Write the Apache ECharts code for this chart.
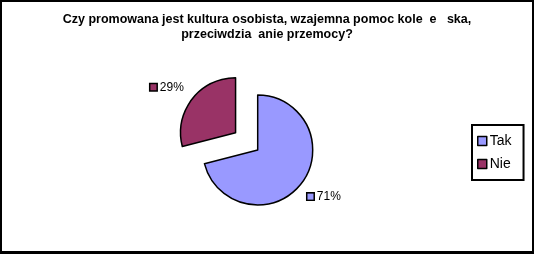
<!DOCTYPE html>
<html>
<head>
<meta charset="utf-8">
<script src="https://cdn.jsdelivr.net/npm/echarts@6/dist/echarts.min.js"></script>
<style>
html,body{margin:0;padding:0;background:#fff;}
#frame{width:534px;height:254px;box-sizing:border-box;border:2px solid #000;border-bottom-width:3px;}
#chart{width:530px;height:249px;}
</style>
</head>
<body>
<div id="frame"><div id="chart"></div></div>
<script>
const categories = ['Tak', 'Nie'];
const values = [71, 29];
const colors = ['#9999FF', '#993366'];
const titleText = 'Czy promowana jest kultura osobista, wzajemna pomoc kole  e   ska,\nprzeciwdzia  anie przemocy?';

const chart = echarts.init(document.getElementById('chart'));
const font = '"Liberation Sans", Arial, sans-serif';
const labelShift = [[-5, 8], [3, -7]];
chart.setOption({
  animation: false,
  title: {
    text: titleText,
    left: 'center',
    top: 5,
    textStyle: { fontFamily: font, fontSize: 12.5, fontWeight: 'bold', color: '#000', lineHeight: 15 }
  },
  legend: {
    orient: 'vertical',
    left: 470,
    top: 123,
    data: categories,
    icon: 'rect',
    itemWidth: 9,
    itemHeight: 9,
    itemGap: 9,
    padding: [9, 12, 9, 5],
    borderColor: '#000',
    borderWidth: 2,
    itemStyle: { borderColor: '#000', borderWidth: 1.5 },
    textStyle: { fontFamily: font, fontSize: 14, color: '#000', padding: [0, 0, 0, -2] }
  },
  series: [{
    type: 'pie',
    center: [255.7, 148],
    radius: 55,
    startAngle: 90,
    clockwise: true,
    selectedMode: 'single',
    selectedOffset: 28,
    data: categories.map((c, i) => ({
      name: c, value: values[i], selected: i === 1,
      itemStyle: { color: colors[i] }
    })),
    itemStyle: { borderColor: '#000', borderWidth: 1.5 },
    emphasis: { disabled: true },
    label: {
      show: true,
      position: 'outside',
      formatter: p => '{b' + p.dataIndex + '|}{t| ' + Math.round(p.percent) + '%}',
      rich: {
        b0: { width: 6, height: 6, backgroundColor: colors[0], borderColor: '#000', borderWidth: 1.5 },
        b1: { width: 6, height: 6, backgroundColor: colors[1], borderColor: '#000', borderWidth: 1.5 },
        t: { fontFamily: font, fontSize: 12, color: '#000' }
      }
    },
    labelLayout: p => ({ dx: labelShift[p.dataIndex][0], dy: labelShift[p.dataIndex][1] }),
    labelLine: { show: false, length: 8, length2: 0 }
  }]
});
</script>
</body>
</html>
